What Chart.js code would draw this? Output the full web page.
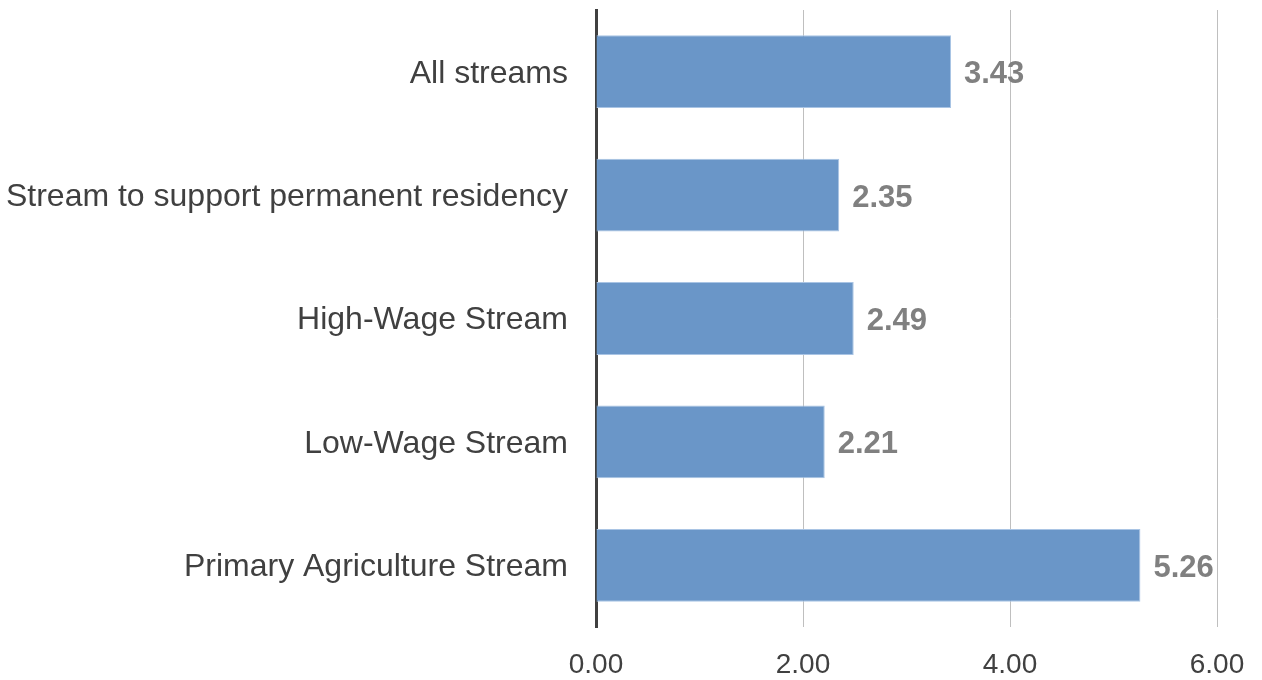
<!DOCTYPE html>
<html>
<head>
<meta charset="utf-8">
<script src="https://cdn.jsdelivr.net/npm/chart.js@4/dist/chart.umd.min.js"></script>
<style>
  html, body { margin: 0; padding: 0; background: #ffffff; }
  #wrap { width: 1262px; height: 680px; position: relative; }
</style>
</head>
<body>
<div id="wrap"><canvas id="c" width="1262" height="680"></canvas></div>
<script>
const categories = [
  "All streams",
  "Stream to support permanent residency",
  "High-Wage Stream",
  "Low-Wage Stream",
  "Primary Agriculture Stream"
];
const values = [3.43, 2.35, 2.49, 2.21, 5.26];
const xTicks = [0, 2, 4, 6];

const FONT = "'Liberation Sans', Arial, sans-serif";
const NARROW = "'Liberation Sans Narrow', 'Arial Narrow', 'Liberation Sans', sans-serif";

const valueLabels = {
  id: 'valueLabels',
  afterDatasetsDraw(chart) {
    const ctx = chart.ctx;
    const meta = chart.getDatasetMeta(0);
    ctx.save();
    ctx.font = "bold 31px " + FONT;
    ctx.fillStyle = '#808080';
    ctx.textAlign = 'left';
    ctx.textBaseline = 'middle';
    meta.data.forEach((bar, i) => {
      ctx.fillText(values[i].toFixed(2), bar.x + 13, bar.y + 3);
    });
    ctx.restore();
  }
};

new Chart(document.getElementById('c'), {
  type: 'bar',
  data: {
    labels: categories,
    datasets: [{
      data: values,
      backgroundColor: '#6a96c8',
      borderColor: '#a9c4e4',
      borderWidth: 1,
      barPercentage: 0.59,
      categoryPercentage: 1.0
    }]
  },
  options: {
    indexAxis: 'y',
    responsive: false,
    animation: false,
    layout: { padding: { top: 10, right: 45, left: 0, bottom: 0 } },
    plugins: { legend: { display: false }, tooltip: { enabled: false } },
    scales: {
      x: {
        min: 0, max: 6,
        afterBuildTicks(scale) { scale.ticks = xTicks.map(v => ({ value: v })); },
        afterFit(scale) { scale.height = 53; scale.paddingLeft = 0; scale.paddingRight = 0; },
        ticks: {
          callback: v => Number(v).toFixed(2),
          font: { family: NARROW, size: 28 },
          color: '#404040',
          padding: 21,
          maxRotation: 0
        },
        grid: { color: '#bfbfbf', lineWidth: 1, drawTicks: false },
        border: { display: false }
      },
      y: {
        afterFit(scale) { scale.width = 596; scale.paddingTop = 0; scale.paddingBottom = 0; },
        ticks: {
          font: { family: FONT, size: 32 },
          color: '#404040',
          padding: 28,
          labelOffset: 2
        },
        grid: { display: false, drawTicks: false },
        border: { display: true, color: '#404040', width: 3 }
      }
    }
  },
  plugins: [valueLabels]
});
</script>
</body>
</html>
